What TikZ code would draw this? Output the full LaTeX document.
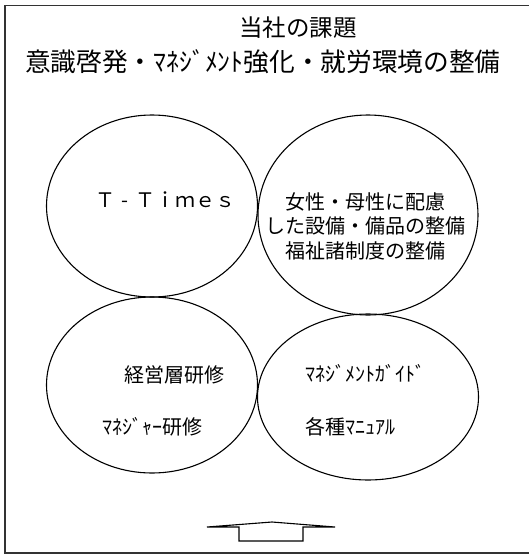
\documentclass[tikz,border=0pt]{standalone}
\usepackage{fontspec}
\setmainfont{Noto Sans CJK JP}
\begin{document}
\begin{tikzpicture}[x=1pt,y=-1pt,
  lbl/.style={inner sep=0pt,font=\fontsize{20}{24.5}\selectfont},
  ttl/.style={inner sep=0pt,font=\fontsize{23.5}{27}\selectfont},
  sub/.style={inner sep=0pt,font=\fontsize{25.7}{30}\selectfont},
  ell/.style={draw,line width=1.1pt}]
\useasboundingbox (0,0) rectangle (529,557);
\draw[line width=1.6pt,draw=black!80] (540,5.5) -- (5,5.5) -- (5,553) -- (540,553);
\node[ttl] (t1) at (298,28) {当社の課題};
\node[sub,anchor=west] (t2) at (25,62) {意識啓発・ﾏﾈｼﾞﾒﾝﾄ強化・就労環境の整備};
\draw[ell] (152,206) ellipse [x radius=105.5, y radius=91];
\draw[ell] (368,215) ellipse [x radius=110, y radius=100];
\draw[ell] (152,385) ellipse [x radius=105.5, y radius=88];
\draw[ell] (368,397) ellipse [x radius=110.5, y radius=83];
\node[lbl] (a) at (165,200) {Ｔ\makebox[20pt]{-}Ｔｉｍｅｓ};
\node[lbl,align=center] (b) at (365,226) {女性・母性に配慮\\した設備・備品の整備\\福祉諸制度の整備};
\node[lbl] (c) at (174,375) {経営層研修};
\node[lbl] (d) at (152,427) {ﾏﾈｼﾞｬｰ研修};
\node[lbl,anchor=west] (e) at (305,373) {ﾏﾈｼﾞﾒﾝﾄｶﾞｲﾄﾞ};
\node[lbl,anchor=west] (f) at (305,427) {各種ﾏﾆｭｱﾙ};
\draw[line width=1.1pt,line join=miter] (207,527) -- (272,522) -- (335,527) -- (303,527) -- (303,541) -- (239,541) -- (239,527) -- cycle;
\end{tikzpicture}
\end{document}
